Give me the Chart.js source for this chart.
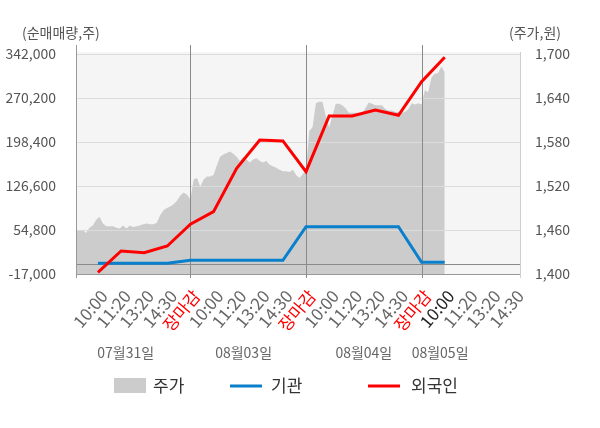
<!DOCTYPE html>
<html>
<head>
  <meta charset="utf-8">
  <title>기관/외국인 순매매량과 주가</title>
  <script src="https://cdn.jsdelivr.net/npm/chart.js"></script>
  <style>
    html, body { margin: 0; padding: 0; background: #fff; }
    #wrap { width: 600px; height: 428px; }
  </style>
</head>
<body>
  <div id="wrap"><canvas id="myChart" width="600" height="428"></canvas></div>
  <script>
    const FONT = '"Noto Sans CJK KR", "Noto Sans", sans-serif';

    // x axis tick labels (evenly spaced)
    const timeLabels = [
      '10:00', '11:20', '13:20', '14:30', '장마감',
      '10:00', '11:20', '13:20', '14:30', '장마감',
      '10:00', '11:20', '13:20', '14:30', '장마감',
      '10:00', '11:20', '13:20', '14:30'
    ];
    const closeIdx = [4, 9, 14];
    const currentIdx = 15;

    const dateLabels = ['07월31일', '08월03일', '08월04일', '08월05일'];
    const datePos = [1.2, 6.3, 11.5, 14.8];

    // net buying (주), one value per tick
    const foreignNet = [-14200, 20500, 17800, 28700, 64400, 84700, 155500, 201700,
                        200100, 150000, 240900, 240900, 250700, 242000, 296900, 336700];
    const instNet = [500, 500, 500, 500, 5400, 5400, 5400, 5400,
                     5400, 60200, 60200, 60200, 60200, 60200, 2100, 2100];

    // share price (원), intraday samples per day
    const priceDay1 = [1461, 1459, 1460, 1456, 1463, 1466, 1474, 1478, 1469, 1465,
                       1465, 1465, 1463, 1462, 1466, 1462, 1466, 1464, 1465, 1466,
                       1468, 1469, 1468, 1468, 1470, 1480, 1487, 1490, 1492, 1495,
                       1500, 1507, 1511, 1508, 1502];
    const priceDay2 = [1529, 1531, 1519, 1529, 1533, 1533, 1535, 1548, 1560, 1563,
                       1565, 1567, 1564, 1560, 1554, 1560, 1556, 1552, 1556, 1558,
                       1554, 1552, 1554, 1549, 1547, 1545, 1542, 1540, 1540, 1539,
                       1542, 1535, 1531, 1536, 1542];
    const priceDay3 = [1595, 1600, 1633, 1635, 1635, 1615, 1600, 1615, 1632, 1632,
                       1630, 1626, 1620, 1620, 1620, 1620, 1620, 1626, 1634, 1632,
                       1630, 1630, 1630, 1625, 1623, 1623, 1621, 1621, 1620, 1621,
                       1625, 1633, 1631, 1633, 1631];
    const priceDay4 = [1651, 1648, 1668, 1673, 1674, 1683, 1675];

    // session span of each day on the x axis (open, close)
    const X_MIN = -0.95;
    const daySpan = [[X_MIN, 4], [4.14, 9], [9.14, 14], [14.14, 15]];
    const priceDays = [priceDay1, priceDay2, priceDay3, priceDay4];
    const pricePoints = [];
    priceDays.forEach((day, d) => {
      const [a, b] = daySpan[d];
      day.forEach((v, i) => pricePoints.push({ x: a + i * (b - a) / (day.length - 1), y: v }));
    });

    // draws grid lines over the price area, under the net buying lines
    const overlay = {
      id: 'overlay',
      beforeDraw(chart) {
        const { ctx, chartArea: a } = chart;
        ctx.save();
        ctx.fillStyle = '#f5f5f5';
        ctx.fillRect(a.left, a.top - 2, a.right - a.left, a.bottom - a.top + 2);
        ctx.restore();
      },
      afterDatasetDraw(chart, args) {
        if (args.index !== 2) return;
        const { ctx, chartArea: a, scales } = chart;
        const y = scales.y, x = scales.x;
        ctx.save();
        ctx.lineWidth = 1;
        ctx.strokeStyle = '#dcdcdc';
        y.ticks.forEach(t => {
          const py = Math.round(y.getPixelForValue(t.value)) + 0.5;
          ctx.beginPath(); ctx.moveTo(a.left, py); ctx.lineTo(a.right, py); ctx.stroke();
        });
        ctx.strokeStyle = '#8a8a8a';
        const zy = Math.round(y.getPixelForValue(0)) + 0.5;
        ctx.beginPath(); ctx.moveTo(a.left, zy); ctx.lineTo(a.right, zy); ctx.stroke();
        closeIdx.forEach(i => {
          const px = Math.round(x.getPixelForValue(i)) + 0.5;
          ctx.beginPath(); ctx.moveTo(px, a.top - 9); ctx.lineTo(px, a.bottom + 4); ctx.stroke();
        });
        ctx.strokeStyle = '#999';
        const lx = Math.round(a.left) + 0.5;
        ctx.beginPath(); ctx.moveTo(lx, a.top - 9); ctx.lineTo(lx, a.bottom + 4); ctx.stroke();
        const by = Math.round(a.bottom) + 0.5;
        ctx.beginPath(); ctx.moveTo(a.left, by); ctx.lineTo(a.right, by); ctx.stroke();
        ctx.strokeStyle = '#cfcfcf';
        const rx = Math.round(a.right) - 0.5;
        ctx.beginPath(); ctx.moveTo(rx, a.top - 2); ctx.lineTo(rx, a.bottom + 4); ctx.stroke();
        ctx.restore();
      },
      afterDraw(chart) {
        const { ctx, scales } = chart;
        ctx.save();
        ctx.font = '14px ' + FONT;
        ctx.fillStyle = '#555';
        ctx.textBaseline = 'middle';
        ctx.textAlign = 'left';
        ctx.fillText('(순매매량,주)', 22, 33);
        ctx.fillText('(주가,원)', 509, 33);
        ctx.textAlign = 'center';
        ctx.fillStyle = '#666';
        dateLabels.forEach((t, i) => ctx.fillText(t, scales.x.getPixelForValue(datePos[i]), 353));
        // legend
        ctx.font = '17px ' + FONT;
        ctx.fillStyle = '#cccccc';
        ctx.fillRect(114, 378, 32, 15);
        ctx.lineWidth = 3;
        ctx.strokeStyle = '#0a7fcc';
        ctx.beginPath(); ctx.moveTo(230, 386); ctx.lineTo(262, 386); ctx.stroke();
        ctx.strokeStyle = '#ff0000';
        ctx.beginPath(); ctx.moveTo(368, 386); ctx.lineTo(400, 386); ctx.stroke();
        ctx.fillStyle = '#333';
        ctx.textAlign = 'left';
        ctx.fillText('주가', 153, 386);
        ctx.fillText('기관', 271, 386);
        ctx.fillText('외국인', 411, 386);
        ctx.restore();
      }
    };

    const ctx = document.getElementById('myChart').getContext('2d');
    new Chart(ctx, {
      type: 'line',
      data: {
        datasets: [
          {
            label: '외국인',
            data: foreignNet.map((v, i) => ({ x: i, y: v })),
            yAxisID: 'y',
            borderColor: '#ff0000',
            borderWidth: 3,
            pointRadius: 0,
            fill: false
          },
          {
            label: '기관',
            data: instNet.map((v, i) => ({ x: i, y: v })),
            yAxisID: 'y',
            borderColor: '#0a7fcc',
            borderWidth: 3,
            pointRadius: 0,
            fill: false
          },
          {
            label: '주가',
            data: pricePoints,
            yAxisID: 'y2',
            borderWidth: 0,
            borderColor: 'rgba(0,0,0,0)',
            backgroundColor: '#cccccc',
            pointRadius: 0,
            fill: 'start'
          }
        ]
      },
      options: {
        responsive: false,
        animation: false,
        layout: { padding: { top: 54, left: 0, right: 0, bottom: 0 } },
        plugins: { legend: { display: false }, tooltip: { enabled: false } },
        scales: {
          x: {
            type: 'linear',
            min: X_MIN,
            max: 18.3,
            afterBuildTicks: s => { s.ticks = timeLabels.map((_, i) => ({ value: i })); },
            afterFit: s => { s.height = 154; },
            grid: { display: false },
            border: { display: false },
            ticks: {
              autoSkip: false,
              minRotation: 50,
              maxRotation: 50,
              padding: 4,
              labelOffset: 6,
              font: { size: 17, family: FONT },
              color: c => closeIdx.includes(c.index) ? '#ff0000' : (c.index === currentIdx ? '#222' : '#666'),
              callback: (v, i) => timeLabels[i]
            }
          },
          y: {
            position: 'left',
            min: -17000,
            max: 342000,
            afterBuildTicks: s => {
              const t = [];
              for (let v = -17000; v <= 342000; v += 71800) t.push({ value: v });
              s.ticks = t;
            },
            afterFit: s => { s.width = 76; },
            grid: { display: false },
            border: { display: false },
            ticks: {
              padding: 12,
              font: { size: 14, family: FONT },
              color: '#555',
              callback: v => v.toLocaleString('en-US')
            }
          },
          y2: {
            position: 'right',
            min: 1400,
            max: 1700,
            afterBuildTicks: s => {
              const t = [];
              for (let v = 1400; v <= 1700; v += 60) t.push({ value: v });
              s.ticks = t;
            },
            afterFit: s => { s.width = 79; },
            grid: { display: false },
            border: { display: false },
            ticks: {
              padding: 6,
              font: { size: 14, family: FONT },
              color: '#555',
              callback: v => v.toLocaleString('en-US')
            }
          }
        }
      },
      plugins: [overlay]
    });
  </script>
</body>
</html>
